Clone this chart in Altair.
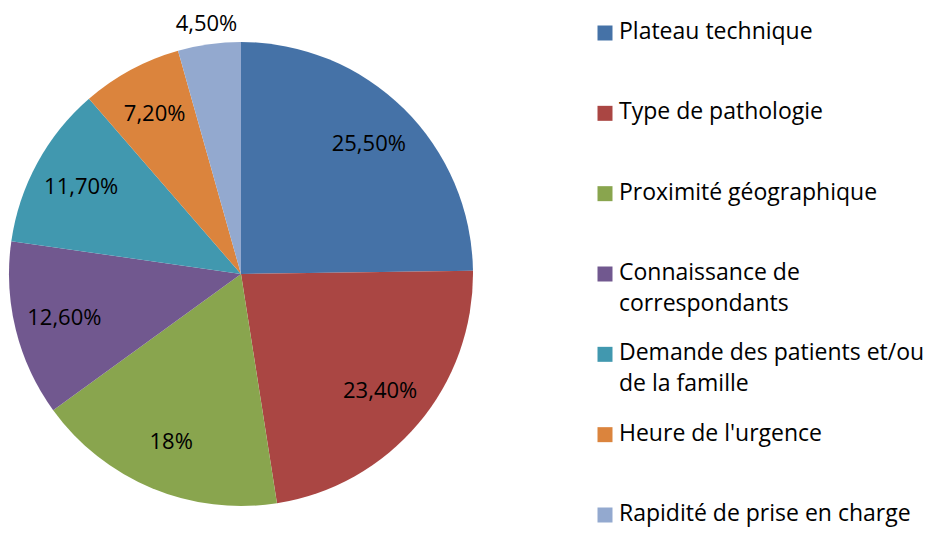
import altair as alt
import pandas as pd

categories = [
    "Plateau technique",
    "Type de pathologie",
    "Proximité géographique",
    "Connaissance de\ncorrespondants",
    "Demande des patients et/ou\nde la famille",
    "Heure de l'urgence",
    "Rapidité de prise en charge",
]
values = [25.5, 23.4, 18.0, 12.6, 11.7, 7.2, 4.5]
labels = ["25,50%", "23,40%", "18%", "12,60%", "11,70%", "7,20%", "4,50%"]
colors = ["#4572A7", "#AA4643", "#89A54E", "#71588F", "#4198AF", "#DB843D", "#93A9CF"]

df = pd.DataFrame({
    "cat": categories,
    "value": values,
    "label": labels,
    "idx": list(range(len(categories))),
})

FONT = "Open Sans"
color_scale = alt.Scale(domain=categories, range=colors)

base = alt.Chart(df).encode(
    theta=alt.Theta("value:Q", stack=True),
    order=alt.Order("idx:Q", sort="ascending"),
)

cx, cy = 233, 266
pie = base.mark_arc(radius=232).encode(
    x=alt.value(cx), y=alt.value(cy),
    color=alt.Color("cat:N", scale=color_scale, legend=None),
)

text_in = base.mark_text(radius=182, font=FONT, fontSize=22).encode(
    text="label:N",
    x=alt.value(cx), y=alt.value(cy),
    color=alt.value("black"),
    opacity=alt.condition("datum.value >= 5", alt.value(1), alt.value(0)),
)
text_out = base.mark_text(radius=252, font=FONT, fontSize=22).encode(
    text="label:N",
    x=alt.value(cx), y=alt.value(cy),
    color=alt.value("black"),
    opacity=alt.condition("datum.value < 5", alt.value(1), alt.value(0)),
)

ycat = alt.Y("cat:N", sort=categories, axis=None,
             scale=alt.Scale(type="point", range=[25, 507], padding=0))

leg_sq = alt.Chart(df).mark_square(size=225, opacity=1).encode(
    x=alt.value(597),
    y=ycat,
    color=alt.Color("cat:N", scale=color_scale, legend=None),
)
leg_txt = alt.Chart(df).mark_text(
    align="left", baseline="top", dy=-12, font=FONT, fontSize=23,
    lineBreak="\n", lineHeight=31
).encode(
    x=alt.value(611),
    y=ycat,
    text="cat:N",
    color=alt.value("black"),
)

chart = alt.layer(pie, text_in, text_out, leg_sq, leg_txt).properties(
    width=917, height=525, padding=0, autosize="none"
).configure_view(stroke=None)

chart.save("out.html", embed_options={"renderer": "svg", "actions": False})
